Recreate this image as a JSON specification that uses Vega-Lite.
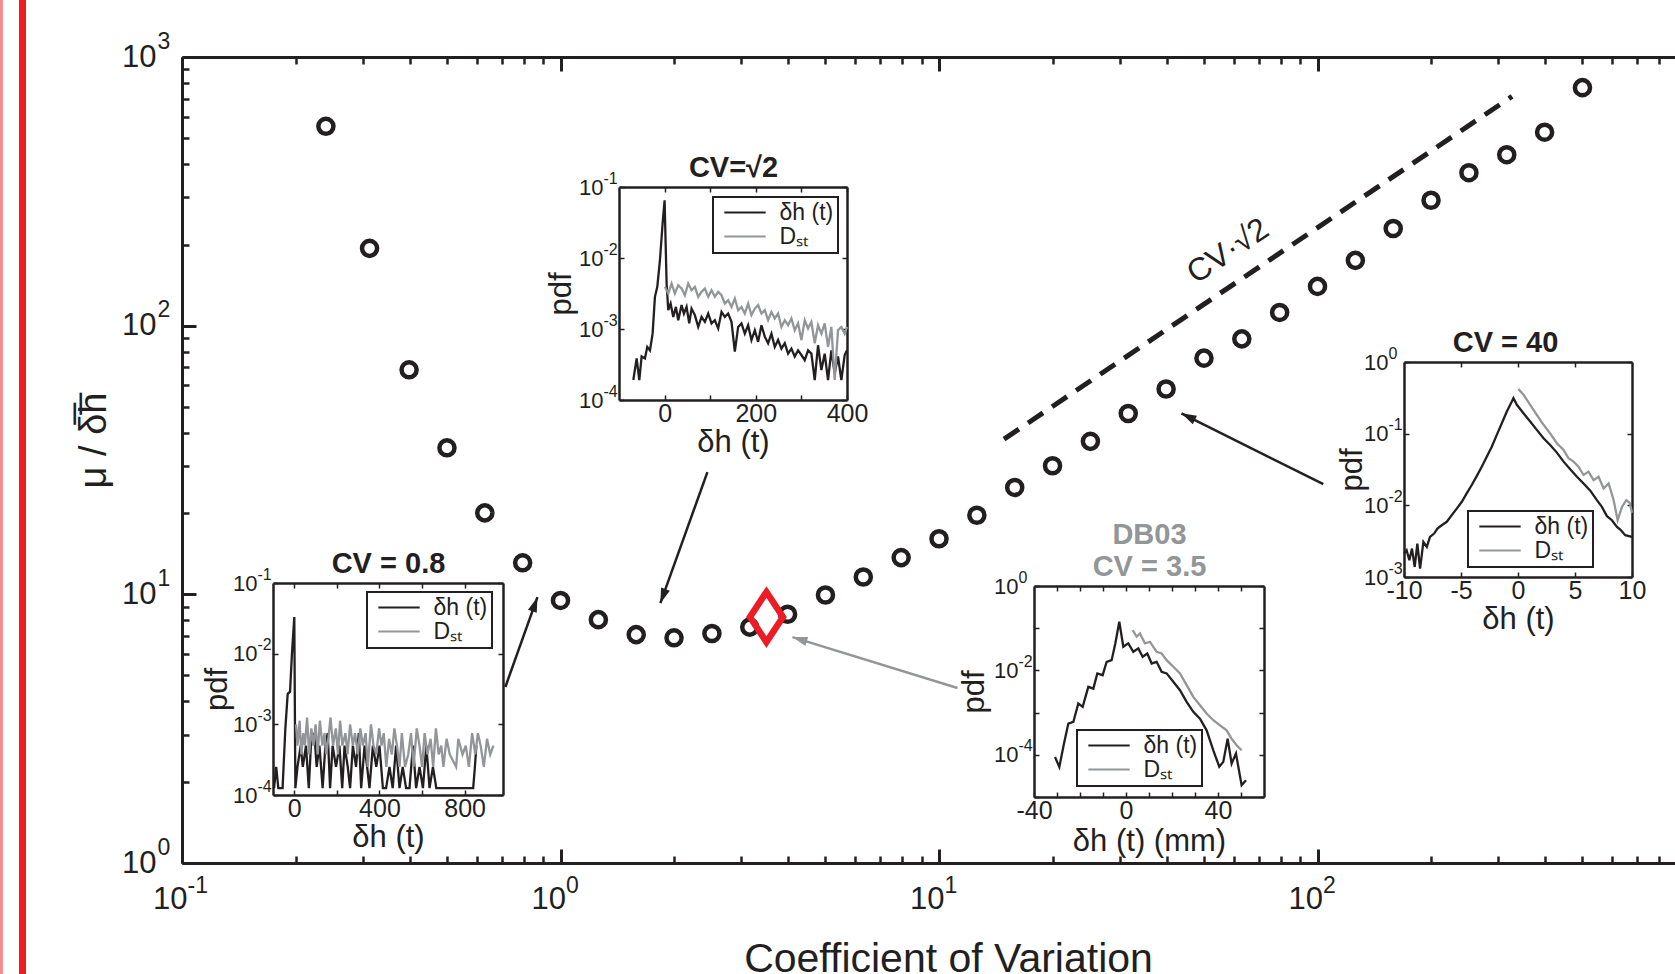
{
"$schema":"https://vega.github.io/schema/vega-lite/v6.json",
"width":1493,"height":806,
"autosize":{"type":"none"},
"padding":{"left":182,"top":57,"right":0,"bottom":111},
"background":"white",
"config":{"view":{"stroke":null},"font":"Liberation Sans","text":{"font":"Liberation Sans"},
"axis":{"grid":false,"domainColor":"#231f20","tickColor":"#231f20","labelColor":"#231f20","titleColor":"#231f20","labelFont":"Liberation Sans","titleFont":"Liberation Sans","titleFontWeight":"normal","labelFlush":false,"labelOverlap":false,"labelBound":false,"tickCap":"butt"}},
"datasets":{
"pts":[{"cv":0.24,"r":552},{"cv":0.313,"r":194},{"cv":0.3981,"r":68.5},{"cv":0.5012,"r":35.1},{"cv":0.631,"r":20.1},{"cv":0.7943,"r":13.1},{"cv":1,"r":9.49},{"cv":1.259,"r":8.05},{"cv":1.585,"r":7.08},{"cv":1.995,"r":6.89},{"cv":2.512,"r":7.15},{"cv":3.162,"r":7.55},{"cv":3.981,"r":8.43},{"cv":5.012,"r":9.94},{"cv":6.31,"r":11.6},{"cv":7.943,"r":13.7},{"cv":10,"r":16.1},{"cv":12.59,"r":19.7},{"cv":15.85,"r":25.0},{"cv":19.95,"r":30.1},{"cv":25.12,"r":37.1},{"cv":31.62,"r":47.1},{"cv":39.81,"r":58.1},{"cv":50.12,"r":75.7},{"cv":63.1,"r":89.3},{"cv":79.43,"r":112},{"cv":100,"r":140},{"cv":125.9,"r":175},{"cv":158.5,"r":230},{"cv":199.5,"r":293},{"cv":251.2,"r":371},{"cv":316.2,"r":433},{"cv":398.1,"r":525},{"cv":501.2,"r":769}],
"dia":[{"cv":3.5,"r":8.23}],
"dash":[{"cv":14.85,"r":37.8},{"cv":326.6,"r":713.6}],
"lbl":[{"cv":58.0,"r":189.6,"t":"CV·√2"}],
"arr":[{"id":1,"src":"m","x":0.715,"y":4.52,"x2":0.869,"y2":9.76},{"id":2,"src":"m","x":2.444,"y":28.5,"x2":1.836,"y2":9.27},{"id":3,"src":"d","x":11.19,"y":4.48,"x2":4.10,"y2":6.93},{"id":4,"src":"m","x":103.6,"y":25.7,"x2":43.7,"y2":47.2}],
"red":[{"k":"a","x":0.03334},{"k":"b","x":0.0379}],
"i1":[
{"s":"a","x":-95,"y":0.000125},{"s":"a","x":-85,"y":0.00025},{"s":"a","x":-75,"y":0.000125},{"s":"a","x":-55,"y":0.000125},{"s":"a","x":-42,"y":0.000875},{"s":"a","x":-31,"y":0.0027},{"s":"a","x":-20,"y":0.0029},{"s":"a","x":-11,"y":0.01},{"s":"a","x":0,"y":0.033},{"s":"a","x":5,"y":0.000125},{"s":"a","x":15,"y":0.00025},{"s":"a","x":30,"y":0.0005},{"s":"a","x":40,"y":0.00025},{"s":"a","x":55,"y":0.0005},{"s":"a","x":68,"y":0.000125},{"s":"a","x":78,"y":0.0005},{"s":"a","x":94,"y":0.00075},{"s":"a","x":105,"y":0.00025},{"s":"a","x":118,"y":0.0005},{"s":"a","x":133,"y":0.000125},{"s":"a","x":146,"y":0.0005},{"s":"a","x":157,"y":0.00075},{"s":"a","x":168,"y":0.000125},{"s":"a","x":180,"y":0.0005},{"s":"a","x":196,"y":0.00025},{"s":"a","x":212,"y":0.0005},{"s":"a","x":225,"y":0.000125},{"s":"a","x":236,"y":0.0005},{"s":"a","x":251,"y":0.00025},{"s":"a","x":262,"y":0.000125},{"s":"a","x":275,"y":0.0005},{"s":"a","x":290,"y":0.00025},{"s":"a","x":303,"y":0.00075},{"s":"a","x":314,"y":0.000125},{"s":"a","x":330,"y":0.0005},{"s":"a","x":342,"y":0.00025},{"s":"a","x":353,"y":0.000125},{"s":"a","x":369,"y":0.0005},{"s":"a","x":385,"y":0.00025},{"s":"a","x":400,"y":0.0005},{"s":"a","x":416,"y":0.000125},{"s":"a","x":431,"y":0.000125},{"s":"a","x":447,"y":0.00025},{"s":"a","x":462,"y":0.000125},{"s":"a","x":478,"y":0.0005},{"s":"a","x":494,"y":0.000125},{"s":"a","x":509,"y":0.00025},{"s":"a","x":525,"y":0.000125},{"s":"a","x":541,"y":0.000125},{"s":"a","x":557,"y":0.0005},{"s":"a","x":572,"y":0.000125},{"s":"a","x":588,"y":0.00025},{"s":"a","x":604,"y":0.000125},{"s":"a","x":620,"y":0.0005},{"s":"a","x":635,"y":0.000125},{"s":"a","x":651,"y":0.00025},{"s":"a","x":667,"y":0.000125},{"s":"a","x":690,"y":0.000125},{"s":"a","x":720,"y":0.000125},{"s":"a","x":760,"y":0.000125},{"s":"a","x":800,"y":0.000125},{"s":"a","x":840,"y":0.000125},{"s":"a","x":848,"y":0.00025},{"s":"a","x":855,"y":0.0005},
{"s":"b","x":8,"y":0.001},{"s":"b","x":15,"y":0.0005},{"s":"b","x":25,"y":0.001125},{"s":"b","x":33,"y":0.000375},{"s":"b","x":42,"y":0.00075},{"s":"b","x":50,"y":0.0005},{"s":"b","x":60,"y":0.00125},{"s":"b","x":70,"y":0.000375},{"s":"b","x":80,"y":0.000875},{"s":"b","x":90,"y":0.0005},{"s":"b","x":100,"y":0.001},{"s":"b","x":110,"y":0.000375},{"s":"b","x":120,"y":0.001125},{"s":"b","x":132,"y":0.0005},{"s":"b","x":142,"y":0.00075},{"s":"b","x":150,"y":0.000375},{"s":"b","x":160,"y":0.000625},{"s":"b","x":170,"y":0.00125},{"s":"b","x":182,"y":0.0005},{"s":"b","x":195,"y":0.000875},{"s":"b","x":205,"y":0.000375},{"s":"b","x":215,"y":0.001125},{"s":"b","x":226,"y":0.0005},{"s":"b","x":240,"y":0.00075},{"s":"b","x":250,"y":0.000375},{"s":"b","x":262,"y":0.001},{"s":"b","x":275,"y":0.0005},{"s":"b","x":285,"y":0.00075},{"s":"b","x":298,"y":0.000375},{"s":"b","x":310,"y":0.000875},{"s":"b","x":322,"y":0.0005},{"s":"b","x":335,"y":0.00075},{"s":"b","x":345,"y":0.00025},{"s":"b","x":360,"y":0.001},{"s":"b","x":372,"y":0.0005},{"s":"b","x":385,"y":0.000375},{"s":"b","x":398,"y":0.000875},{"s":"b","x":410,"y":0.0005},{"s":"b","x":420,"y":0.00075},{"s":"b","x":432,"y":0.00025},{"s":"b","x":445,"y":0.000625},{"s":"b","x":458,"y":0.000375},{"s":"b","x":470,"y":0.000875},{"s":"b","x":482,"y":0.0005},{"s":"b","x":494,"y":0.00025},{"s":"b","x":505,"y":0.00075},{"s":"b","x":520,"y":0.00025},{"s":"b","x":535,"y":0.000375},{"s":"b","x":548,"y":0.00075},{"s":"b","x":560,"y":0.00025},{"s":"b","x":575,"y":0.000875},{"s":"b","x":588,"y":0.0005},{"s":"b","x":600,"y":0.00025},{"s":"b","x":612,"y":0.00075},{"s":"b","x":625,"y":0.000375},{"s":"b","x":640,"y":0.000625},{"s":"b","x":652,"y":0.00025},{"s":"b","x":665,"y":0.000875},{"s":"b","x":678,"y":0.000375},{"s":"b","x":690,"y":0.0005},{"s":"b","x":700,"y":0.00025},{"s":"b","x":715,"y":0.000625},{"s":"b","x":730,"y":0.000375},{"s":"b","x":760,"y":0.00025},{"s":"b","x":770,"y":0.000625},{"s":"b","x":790,"y":0.000375},{"s":"b","x":805,"y":0.0005},{"s":"b","x":820,"y":0.00025},{"s":"b","x":835,"y":0.00075},{"s":"b","x":850,"y":0.000375},{"s":"b","x":862,"y":0.00075},{"s":"b","x":875,"y":0.0005},{"s":"b","x":890,"y":0.00025},{"s":"b","x":905,"y":0.000625},{"s":"b","x":920,"y":0.000375},{"s":"b","x":935,"y":0.0005}],
"i2":[
{"s":"a","x":-68.6,"y":0.000191},{"s":"a","x":-61.3,"y":0.000385},{"s":"a","x":-55.5,"y":0.000191},{"s":"a","x":-50.4,"y":0.00041},{"s":"a","x":-43.1,"y":0.000385},{"s":"a","x":-38,"y":0.00056},{"s":"a","x":-32.1,"y":0.0005},{"s":"a","x":-26.3,"y":0.00086},{"s":"a","x":-21.2,"y":0.00284},{"s":"a","x":-16,"y":0.00393},{"s":"a","x":-10.2,"y":0.0093},{"s":"a","x":-4.4,"y":0.0305},{"s":"a","x":0,"y":0.065},{"s":"a","x":4.4,"y":0.00437},{"s":"a","x":8,"y":0.00184},{"s":"a","x":13.2,"y":0.00228},{"s":"a","x":19,"y":0.00148},{"s":"a","x":24.8,"y":0.00205},{"s":"a","x":29.9,"y":0.00133},{"s":"a","x":37.2,"y":0.00217},{"s":"a","x":42.4,"y":0.00165},{"s":"a","x":48.2,"y":0.00205},{"s":"a","x":54,"y":0.0012},{"s":"a","x":59.1,"y":0.00194},{"s":"a","x":66.4,"y":0.00157},{"s":"a","x":73.7,"y":0.00107},{"s":"a","x":81,"y":0.00148},{"s":"a","x":88.3,"y":0.00126},{"s":"a","x":95.6,"y":0.00165},{"s":"a","x":102.9,"y":0.0012},{"s":"a","x":110.2,"y":0.00133},{"s":"a","x":117.5,"y":0.00102},{"s":"a","x":124.8,"y":0.00174},{"s":"a","x":132.1,"y":0.00148},{"s":"a","x":139.4,"y":0.00165},{"s":"a","x":146.7,"y":0.00126},{"s":"a","x":154,"y":0.00048},{"s":"a","x":161.3,"y":0.00107},{"s":"a","x":168.6,"y":0.0012},{"s":"a","x":175.9,"y":0.00086},{"s":"a","x":183.2,"y":0.00113},{"s":"a","x":190.5,"y":0.0007},{"s":"a","x":197.8,"y":0.00096},{"s":"a","x":205.1,"y":0.00066},{"s":"a","x":212.4,"y":0.00113},{"s":"a","x":219.7,"y":0.00078},{"s":"a","x":227,"y":0.00063},{"s":"a","x":234.3,"y":0.00086},{"s":"a","x":241.6,"y":0.00056},{"s":"a","x":248.9,"y":0.0007},{"s":"a","x":256.2,"y":0.00053},{"s":"a","x":263.5,"y":0.00063},{"s":"a","x":270.8,"y":0.00045},{"s":"a","x":278.1,"y":0.00053},{"s":"a","x":285.4,"y":0.00041},{"s":"a","x":292.7,"y":0.0005},{"s":"a","x":300,"y":0.00043},{"s":"a","x":307.3,"y":0.000365},{"s":"a","x":314.6,"y":0.0005},{"s":"a","x":321.9,"y":0.00045},{"s":"a","x":329.2,"y":0.000191},{"s":"a","x":336.5,"y":0.00059},{"s":"a","x":343.8,"y":0.000264},{"s":"a","x":351.1,"y":0.00045},{"s":"a","x":358.4,"y":0.000191},{"s":"a","x":365.7,"y":0.0005},{"s":"a","x":373,"y":0.000237},{"s":"a","x":380.3,"y":0.00041},{"s":"a","x":387.6,"y":0.000191},{"s":"a","x":394.9,"y":0.00043},{"s":"a","x":400,"y":0.0005},
{"s":"b","x":0.7,"y":0.00393},{"s":"b","x":8,"y":0.00316},{"s":"b","x":15.3,"y":0.00437},{"s":"b","x":22.6,"y":0.00316},{"s":"b","x":29.9,"y":0.00414},{"s":"b","x":37.2,"y":0.00372},{"s":"b","x":44.5,"y":0.00299},{"s":"b","x":51.8,"y":0.00437},{"s":"b","x":59.1,"y":0.00352},{"s":"b","x":66.4,"y":0.00393},{"s":"b","x":73.7,"y":0.00284},{"s":"b","x":81,"y":0.00334},{"s":"b","x":88.3,"y":0.00372},{"s":"b","x":95.6,"y":0.00284},{"s":"b","x":102.9,"y":0.00352},{"s":"b","x":110.2,"y":0.00284},{"s":"b","x":117.5,"y":0.00334},{"s":"b","x":124.8,"y":0.00299},{"s":"b","x":132.1,"y":0.00228},{"s":"b","x":139.4,"y":0.00255},{"s":"b","x":146.7,"y":0.00205},{"s":"b","x":154,"y":0.00269},{"s":"b","x":161.3,"y":0.00184},{"s":"b","x":168.6,"y":0.00205},{"s":"b","x":175.9,"y":0.00165},{"s":"b","x":183.2,"y":0.00228},{"s":"b","x":190.5,"y":0.00157},{"s":"b","x":197.8,"y":0.00194},{"s":"b","x":205.1,"y":0.00217},{"s":"b","x":212.4,"y":0.00165},{"s":"b","x":219.7,"y":0.00184},{"s":"b","x":227,"y":0.00133},{"s":"b","x":234.3,"y":0.00174},{"s":"b","x":241.6,"y":0.00141},{"s":"b","x":248.9,"y":0.00165},{"s":"b","x":256.2,"y":0.00107},{"s":"b","x":263.5,"y":0.00133},{"s":"b","x":270.8,"y":0.00113},{"s":"b","x":278.1,"y":0.00141},{"s":"b","x":285.4,"y":0.00096},{"s":"b","x":292.7,"y":0.0012},{"s":"b","x":300,"y":0.0007},{"s":"b","x":307.3,"y":0.00133},{"s":"b","x":314.6,"y":0.00102},{"s":"b","x":321.9,"y":0.00126},{"s":"b","x":329.2,"y":0.00063},{"s":"b","x":336.5,"y":0.00113},{"s":"b","x":343.8,"y":0.00086},{"s":"b","x":351.1,"y":0.0012},{"s":"b","x":358.4,"y":0.00056},{"s":"b","x":365.7,"y":0.00107},{"s":"b","x":373,"y":0.000191},{"s":"b","x":380.3,"y":0.00096},{"s":"b","x":387.6,"y":0.00107},{"s":"b","x":394.9,"y":0.00086},{"s":"b","x":400,"y":0.00107}],
"i3":[
{"s":"a","x":-30.87,"y":0.000089},{"s":"a","x":-28.99,"y":0.0000515},{"s":"a","x":-26.96,"y":0.000185},{"s":"a","x":-25.07,"y":0.00055},{"s":"a","x":-22.9,"y":0.0006},{"s":"a","x":-20.73,"y":0.00164},{"s":"a","x":-18.84,"y":0.00137},{"s":"a","x":-16.38,"y":0.00408},{"s":"a","x":-14.2,"y":0.0037},{"s":"a","x":-12.47,"y":0.0085},{"s":"a","x":-10.15,"y":0.0077},{"s":"a","x":-8.41,"y":0.016},{"s":"a","x":-6.24,"y":0.0175},{"s":"a","x":-4.65,"y":0.0436},{"s":"a","x":-2.91,"y":0.142},{"s":"a","x":-1.17,"y":0.0363},{"s":"a","x":1.0,"y":0.0436},{"s":"a","x":3.18,"y":0.0276},{"s":"a","x":5.35,"y":0.0332},{"s":"a","x":7.24,"y":0.021},{"s":"a","x":9.27,"y":0.0252},{"s":"a","x":11.15,"y":0.0146},{"s":"a","x":13.32,"y":0.016},{"s":"a","x":15.5,"y":0.0093},{"s":"a","x":17.67,"y":0.0085},{"s":"a","x":20.57,"y":0.0054},{"s":"a","x":23.47,"y":0.0034},{"s":"a","x":26.36,"y":0.0018},{"s":"a","x":29.26,"y":0.00104},{"s":"a","x":32.16,"y":0.00072},{"s":"a","x":35.06,"y":0.00038},{"s":"a","x":37.96,"y":0.000128},{"s":"a","x":40.56,"y":0.000052},{"s":"a","x":42.3,"y":0.000068},{"s":"a","x":44.19,"y":0.00024},{"s":"a","x":45.93,"y":0.000062},{"s":"a","x":47.81,"y":0.000107},{"s":"a","x":50.27,"y":0.000019},{"s":"a","x":52.16,"y":0.000025},
{"s":"b","x":2.89,"y":0.09},{"s":"b","x":4.63,"y":0.0627},{"s":"b","x":6.08,"y":0.0753},{"s":"b","x":8.25,"y":0.0436},{"s":"b","x":10.43,"y":0.0477},{"s":"b","x":13.32,"y":0.0276},{"s":"b","x":15.5,"y":0.0252},{"s":"b","x":17.67,"y":0.0175},{"s":"b","x":20.57,"y":0.0122},{"s":"b","x":23.47,"y":0.0085},{"s":"b","x":26.36,"y":0.00447},{"s":"b","x":29.26,"y":0.00236},{"s":"b","x":32.16,"y":0.0015},{"s":"b","x":35.06,"y":0.00095},{"s":"b","x":37.96,"y":0.00066},{"s":"b","x":40.86,"y":0.0005},{"s":"b","x":43.75,"y":0.00038},{"s":"b","x":45.93,"y":0.00024},{"s":"b","x":48.1,"y":0.000168},{"s":"b","x":50.27,"y":0.000128}],
"i4":[
{"s":"a","x":-10,"y":0.00212},{"s":"a","x":-9.77,"y":0.00236},{"s":"a","x":-9.53,"y":0.00171},{"s":"a","x":-9.3,"y":0.00249},{"s":"a","x":-9.06,"y":0.00138},{"s":"a","x":-8.83,"y":0.00292},{"s":"a","x":-8.59,"y":0.00131},{"s":"a","x":-8.3,"y":0.00309},{"s":"a","x":-8.0,"y":0.00263},{"s":"a","x":-7.72,"y":0.00363},{"s":"a","x":-7.36,"y":0.00404},{"s":"a","x":-7.07,"y":0.00475},{"s":"a","x":-6.69,"y":0.00528},{"s":"a","x":-6.25,"y":0.00589},{"s":"a","x":-5.81,"y":0.0073},{"s":"a","x":-5.37,"y":0.009},{"s":"a","x":-4.93,"y":0.0112},{"s":"a","x":-4.5,"y":0.0147},{"s":"a","x":-4.06,"y":0.0192},{"s":"a","x":-3.62,"y":0.0256},{"s":"a","x":-3.18,"y":0.0346},{"s":"a","x":-2.74,"y":0.0478},{"s":"a","x":-2.3,"y":0.0659},{"s":"a","x":-1.86,"y":0.0961},{"s":"a","x":-1.42,"y":0.14},{"s":"a","x":-0.98,"y":0.204},{"s":"a","x":-0.54,"y":0.281},{"s":"a","x":-0.4,"y":0.313},{"s":"a","x":-0.1,"y":0.253},{"s":"a","x":0.48,"y":0.193},{"s":"a","x":1.07,"y":0.148},{"s":"a","x":1.65,"y":0.113},{"s":"a","x":2.24,"y":0.0863},{"s":"a","x":2.82,"y":0.0696},{"s":"a","x":3.41,"y":0.0544},{"s":"a","x":4.0,"y":0.0407},{"s":"a","x":4.58,"y":0.0318},{"s":"a","x":5.17,"y":0.0251},{"s":"a","x":5.75,"y":0.0202},{"s":"a","x":6.34,"y":0.016},{"s":"a","x":6.92,"y":0.0118},{"s":"a","x":7.36,"y":0.0095},{"s":"a","x":7.8,"y":0.00706},{"s":"a","x":8.24,"y":0.0062},{"s":"a","x":8.68,"y":0.005},{"s":"a","x":8.97,"y":0.00459},{"s":"a","x":9.41,"y":0.00383},{"s":"a","x":10,"y":0.00363},
{"s":"b","x":0.04,"y":0.419},{"s":"b","x":0.48,"y":0.349},{"s":"b","x":1.07,"y":0.253},{"s":"b","x":1.65,"y":0.183},{"s":"b","x":2.24,"y":0.133},{"s":"b","x":2.82,"y":0.101},{"s":"b","x":3.41,"y":0.0735},{"s":"b","x":4.0,"y":0.0593},{"s":"b","x":4.43,"y":0.0453},{"s":"b","x":4.87,"y":0.0407},{"s":"b","x":5.31,"y":0.0346},{"s":"b","x":5.75,"y":0.0265},{"s":"b","x":6.19,"y":0.0295},{"s":"b","x":6.63,"y":0.0225},{"s":"b","x":7.07,"y":0.0251},{"s":"b","x":7.51,"y":0.0172},{"s":"b","x":7.95,"y":0.0202},{"s":"b","x":8.39,"y":0.0118},{"s":"b","x":8.74,"y":0.0062},{"s":"b","x":9.12,"y":0.0095},{"s":"b","x":9.5,"y":0.0118},{"s":"b","x":9.8,"y":0.0108},{"s":"b","x":10,"y":0.0079}]
},
"layer":[
{"data":{"name":"pts"},"mark":{"type":"point","shape":"circle","size":227,"filled":false,"strokeWidth":4.5,"stroke":"#231f20","opacity":1},
"encoding":{
"x":{"field":"cv","type":"quantitative","scale":{"type":"log","domain":[0.1,880],"nice":false},"axis":{"orient":"bottom","values":[0.1,1,10,100],"labels":false,"tickSize":-14,"tickWidth":3,"domainWidth":3,"title":"Coefficient of Variation","titleFontSize":41,"titleX":766,"titleY":108,"titleBaseline":"alphabetic"}},
"y":{"field":"r","type":"quantitative","scale":{"type":"log","domain":[1,1000],"nice":false},"axis":{"orient":"left","values":[1,10,100,1000],"labels":false,"tickSize":-14,"tickWidth":3,"domainWidth":3,"title":"μ / δ\u0305h\u0305","titleFontSize":38,"titleX":-88,"titleY":383,"titleBaseline":"middle","titleAngle":-90}}}},
{"data":{"name":"dia"},"mark":{"type":"point","shape":"M0,-1L0.66,0L0,1L-0.66,0Z","size":2500,"filled":false,"stroke":"#ed1c24","strokeWidth":6.5,"strokeJoin":"miter","opacity":1},
"encoding":{
"x":{"field":"cv","type":"quantitative","scale":{"type":"log","domain":[0.1,880],"nice":false},"axis":{"orient":"bottom","values":[0.2,0.3,0.4,0.5,0.6,0.7,0.8,0.9,2,3,4,5,6,7,8,9,20,30,40,50,60,70,80,90,200,300,400,500,600,700,800],"labels":false,"domain":false,"tickSize":-7,"tickWidth":2.5,"title":null}},
"y":{"field":"r","type":"quantitative","scale":{"type":"log","domain":[1,1000],"nice":false},"axis":{"orient":"left","values":[2,3,4,5,6,7,8,9,20,30,40,50,60,70,80,90,200,300,400,500,600,700,800,900],"labels":false,"domain":false,"tickSize":-7,"tickWidth":2.5,"title":null}}}},
{"data":{"name":"dash"},"mark":{"type":"line","strokeDash":[18,11],"strokeWidth":5,"color":"#231f20"},
"encoding":{
"x":{"field":"cv","type":"quantitative","scale":{"type":"log","domain":[0.1,880],"nice":false},"axis":{"orient":"bottom","values":[0.1,1,10,100],"ticks":false,"domain":false,"labelExpr":"'10'","labelAlign":"right","labelOffset":5,"labelPadding":21,"labelFontSize":31,"labelBaseline":"top","title":null}},
"y":{"field":"r","type":"quantitative","scale":{"type":"log","domain":[1,1000],"nice":false},"axis":{"orient":"left","values":[1,10,100,1000],"ticks":false,"domain":false,"labelExpr":"'10'","labelAlign":"right","labelPadding":26,"labelFontSize":31,"labelBaseline":"middle","title":null}}}},
{"data":{"name":"lbl"},"mark":{"type":"text","angle":-34,"fontSize":32,"color":"#231f20","align":"center","baseline":"middle"},
"encoding":{
"x":{"field":"cv","type":"quantitative","scale":{"type":"log","domain":[0.1,880],"nice":false},"axis":{"orient":"bottom","values":[0.1,1,10,100],"ticks":false,"domain":false,"labelExpr":"datum.value==0.1?'-1':datum.value==1?'0':datum.value==10?'1':'2'","labelAlign":"left","labelOffset":5,"labelPadding":11,"labelFontSize":23,"labelBaseline":"top","title":null}},
"y":{"field":"r","type":"quantitative","scale":{"type":"log","domain":[1,1000],"nice":false},"axis":{"orient":"left","values":[1,10,100,1000],"ticks":false,"domain":false,"labelExpr":"datum.value==1?'0':datum.value==10?'1':datum.value==100?'2':'3'","labelAlign":"left","labelPadding":25,"labelOffset":-16,"labelFontSize":23,"labelBaseline":"middle","title":null}},
"text":{"field":"t","type":"nominal"}}},
{"data":{"name":"arr"},"mark":{"type":"rule","strokeWidth":2.5},
"encoding":{
"x":{"field":"x","type":"quantitative","scale":{"type":"log","domain":[0.1,880],"nice":false},"axis":{"orient":"top","values":[0.1,1,10,100],"labels":false,"tickSize":-14,"tickWidth":3,"domainWidth":3,"title":null}},
"y":{"field":"y","type":"quantitative","scale":{"type":"log","domain":[1,1000],"nice":false},"axis":null},
"x2":{"field":"x2"},"y2":{"field":"y2"},
"color":{"field":"src","type":"nominal","scale":{"domain":["m","d"],"range":["#231f20","#939598"]},"legend":null}}},
{"data":{"name":"red"},"mark":{"type":"rule"},
"encoding":{
"x":{"field":"x","type":"quantitative","scale":{"type":"log","domain":[0.1,880],"nice":false},"axis":{"orient":"top","values":[0.2,0.3,0.4,0.5,0.6,0.7,0.8,0.9,2,3,4,5,6,7,8,9,20,30,40,50,60,70,80,90,200,300,400,500,600,700,800],"labels":false,"domain":false,"tickSize":-7,"tickWidth":2.5,"title":null}},
"y":{"datum":0.3,"type":"quantitative","scale":{"type":"log","domain":[1,1000],"nice":false},"axis":null},
"y2":{"datum":3000},
"color":{"field":"k","type":"nominal","scale":{"domain":["a","b"],"range":["#f58a8e","#ed1c24"]},"legend":null},
"strokeWidth":{"field":"k","type":"ordinal","scale":{"domain":["a","b"],"range":[3,7]},"legend":null}}},
{"data":{"name":"arr"},"transform":[{"filter":"datum.id==1"}],"mark":{"type":"point","shape":"M0,0L-0.62,2L0.62,2Z","size":225,"filled":true,"opacity":1,"angle":19.6},
"encoding":{"x":{"field":"x2","type":"quantitative","scale":{"type":"log","domain":[0.1,880],"nice":false},"axis":null},"y":{"field":"y2","type":"quantitative","scale":{"type":"log","domain":[1,1000],"nice":false},"axis":null},"color":{"field":"src","type":"nominal","scale":{"domain":["m","d"],"range":["#231f20","#939598"]},"legend":null}}},
{"data":{"name":"arr"},"transform":[{"filter":"datum.id==2"}],"mark":{"type":"point","shape":"M0,0L-0.62,2L0.62,2Z","size":225,"filled":true,"opacity":1,"angle":-160.2},
"encoding":{"x":{"field":"x2","type":"quantitative","scale":{"type":"log","domain":[0.1,880],"nice":false},"axis":null},"y":{"field":"y2","type":"quantitative","scale":{"type":"log","domain":[1,1000],"nice":false},"axis":null},"color":{"field":"src","type":"nominal","scale":{"domain":["m","d"],"range":["#231f20","#939598"]},"legend":null}}},
{"data":{"name":"arr"},"transform":[{"filter":"datum.id==3"}],"mark":{"type":"point","shape":"M0,0L-0.62,2L0.62,2Z","size":225,"filled":true,"opacity":1,"angle":-72.8},
"encoding":{"x":{"field":"x2","type":"quantitative","scale":{"type":"log","domain":[0.1,880],"nice":false},"axis":null},"y":{"field":"y2","type":"quantitative","scale":{"type":"log","domain":[1,1000],"nice":false},"axis":null},"color":{"field":"src","type":"nominal","scale":{"domain":["m","d"],"range":["#231f20","#939598"]},"legend":null}}},
{"data":{"name":"arr"},"transform":[{"filter":"datum.id==4"}],"mark":{"type":"point","shape":"M0,0L-0.62,2L0.62,2Z","size":225,"filled":true,"opacity":1,"angle":-63.4},
"encoding":{"x":{"field":"x2","type":"quantitative","scale":{"type":"log","domain":[0.1,880],"nice":false},"axis":null},"y":{"field":"y2","type":"quantitative","scale":{"type":"log","domain":[1,1000],"nice":false},"axis":null},"color":{"field":"src","type":"nominal","scale":{"domain":["m","d"],"range":["#231f20","#939598"]},"legend":null}}},

{"data":{"name":"i1"},"mark":{"type":"line","strokeWidth":2.3},
"encoding":{
"x":{"field":"x","type":"quantitative","scale":{"domain":[-100,980],"range":[91,321],"nice":false,"zero":false},"axis":{"orient":"bottom","offset":-68,"values":[0,200,400,600,800],"tickSize":-5,"tickWidth":1.5,"domainWidth":2.5,"labelExpr":"datum.value % 400 == 0 ? ''+datum.value : ''","labelFontSize":25,"labelPadding":6,"title":"δh (t)","titleFontSize":31,"titleY":42,"titleBaseline":"middle"}},
"y":{"field":"y","type":"quantitative","scale":{"type":"log","domain":[0.0001,0.1],"range":[738,526],"nice":false},"axis":{"orient":"left","offset":-91,"values":[0.0001,0.001,0.01,0.1],"tickSize":-5,"tickWidth":1.5,"domainWidth":2.5,"labels":false,"title":"pdf","titleFontSize":31,"titleX":-56,"titleY":632,"titleBaseline":"middle","titleAngle":-90}},
"color":{"field":"s","type":"nominal","scale":{"domain":["a","b"],"range":["#231f20","#939598"]},"legend":{"orient":"none","legendX":185,"legendY":535,"title":null,"symbolType":"M-3,0H3","symbolSize":190,"symbolStrokeWidth":2,"symbolOffset":16.5,"labelOffset":23,"labelFontSize":23,"labelFont":"Liberation Sans","labelColor":"#231f20","padding":4,"rowPadding":0,"strokeColor":"#231f20","fillColor":"white","labelExpr":"datum.label=='a'?'δh (t)':'Dₛₜ'","encode":{"legend":{"update":{"strokeWidth":{"value":2}}}}}}}},
{"data":{"name":"i1"},"mark":{"type":"point","opacity":0},
"encoding":{
"x":{"field":"x","type":"quantitative","scale":{"domain":[-100,980],"range":[91,321],"nice":false,"zero":false},"axis":{"orient":"top","offset":-526,"values":[0,200,400,600,800],"tickSize":-5,"tickWidth":1.5,"domainWidth":2.5,"labels":false,"title":"CV = 0.8","titleFontSize":29,"titleFontWeight":"bold","titleY":-5,"titleBaseline":"bottom"}},
"y":{"field":"y","type":"quantitative","scale":{"type":"log","domain":[0.0001,0.1],"range":[738,526],"nice":false},"axis":{"orient":"right","offset":-1172,"values":[0.0001,0.001,0.01,0.1],"tickSize":-5,"tickWidth":1.5,"domainWidth":2.5,"labels":false,"title":null}}}},
{"data":{"name":"i1"},"mark":{"type":"point","opacity":0},
"encoding":{
"x":{"field":"x","type":"quantitative","scale":{"domain":[-100,980],"range":[91,321],"nice":false,"zero":false},"axis":null},
"y":{"field":"y","type":"quantitative","scale":{"type":"log","domain":[0.0001,0.1],"range":[738,526],"nice":false},"axis":{"orient":"left","offset":-91,"values":[0.0001,0.001,0.01,0.1],"ticks":false,"domain":false,"labelExpr":"'10'","labelAlign":"right","labelPadding":16,"labelFontSize":22,"labelBaseline":"middle","title":null}}}},
{"data":{"name":"i1"},"mark":{"type":"point","opacity":0},
"encoding":{
"x":{"field":"x","type":"quantitative","scale":{"domain":[-100,980],"range":[91,321],"nice":false,"zero":false},"axis":null},
"y":{"field":"y","type":"quantitative","scale":{"type":"log","domain":[0.0001,0.1],"range":[738,526],"nice":false},"axis":{"orient":"left","offset":-91,"values":[0.0001,0.001,0.01,0.1],"ticks":false,"domain":false,"labelExpr":"datum.value==0.1?'-1':datum.value==0.01?'-2':datum.value==0.001?'-3':'-4'","labelAlign":"left","labelPadding":16,"labelOffset":-9,"labelFontSize":16,"labelBaseline":"middle","title":null}}}},

{"data":{"name":"i2"},"mark":{"type":"line","strokeWidth":2.3},
"encoding":{
"x":{"field":"x","type":"quantitative","scale":{"domain":[-100,400],"range":[437,665],"nice":false,"zero":false},"axis":{"orient":"bottom","offset":-463,"values":[0,100,200,300,400],"tickSize":-5,"tickWidth":1.5,"domainWidth":2.5,"labelExpr":"datum.value % 200 == 0 ? ''+datum.value : ''","labelFontSize":25,"labelPadding":6,"title":"δh (t)","titleFontSize":31,"titleY":42,"titleBaseline":"middle"}},
"y":{"field":"y","type":"quantitative","scale":{"type":"log","domain":[0.0001,0.1],"range":[343,130],"nice":false},"axis":{"orient":"left","offset":-437,"values":[0.0001,0.001,0.01,0.1],"tickSize":-5,"tickWidth":1.5,"domainWidth":2.5,"labels":false,"title":"pdf","titleFontSize":31,"titleX":-58,"titleY":236.5,"titleBaseline":"middle","titleAngle":-90}},
"color":{"field":"s","type":"nominal","scale":{"domain":["a","b"],"range":["#231f20","#939598"]},"legend":{"orient":"none","legendX":531,"legendY":140,"title":null,"symbolType":"M-3,0H3","symbolSize":190,"symbolStrokeWidth":2,"symbolOffset":16.5,"labelOffset":23,"labelFontSize":23,"labelFont":"Liberation Sans","labelColor":"#231f20","padding":4,"rowPadding":0,"strokeColor":"#231f20","fillColor":"white","labelExpr":"datum.label=='a'?'δh (t)':'Dₛₜ'","encode":{"legend":{"update":{"strokeWidth":{"value":2}}}}}}}},
{"data":{"name":"i2"},"mark":{"type":"point","opacity":0},
"encoding":{
"x":{"field":"x","type":"quantitative","scale":{"domain":[-100,400],"range":[437,665],"nice":false,"zero":false},"axis":{"orient":"top","offset":-130,"values":[0,100,200,300,400],"tickSize":-5,"tickWidth":1.5,"domainWidth":2.5,"labels":false,"title":"CV=√2","titleFontSize":29,"titleFontWeight":"bold","titleY":-5,"titleBaseline":"bottom"}},
"y":{"field":"y","type":"quantitative","scale":{"type":"log","domain":[0.0001,0.1],"range":[343,130],"nice":false},"axis":{"orient":"right","offset":-828,"values":[0.0001,0.001,0.01,0.1],"tickSize":-5,"tickWidth":1.5,"domainWidth":2.5,"labels":false,"title":null}}}},
{"data":{"name":"i2"},"mark":{"type":"point","opacity":0},
"encoding":{
"x":{"field":"x","type":"quantitative","scale":{"domain":[-100,400],"range":[437,665],"nice":false,"zero":false},"axis":null},
"y":{"field":"y","type":"quantitative","scale":{"type":"log","domain":[0.0001,0.1],"range":[343,130],"nice":false},"axis":{"orient":"left","offset":-437,"values":[0.0001,0.001,0.01,0.1],"ticks":false,"domain":false,"labelExpr":"'10'","labelAlign":"right","labelPadding":16,"labelFontSize":22,"labelBaseline":"middle","title":null}}}},
{"data":{"name":"i2"},"mark":{"type":"point","opacity":0},
"encoding":{
"x":{"field":"x","type":"quantitative","scale":{"domain":[-100,400],"range":[437,665],"nice":false,"zero":false},"axis":null},
"y":{"field":"y","type":"quantitative","scale":{"type":"log","domain":[0.0001,0.1],"range":[343,130],"nice":false},"axis":{"orient":"left","offset":-437,"values":[0.0001,0.001,0.01,0.1],"ticks":false,"domain":false,"labelExpr":"datum.value==0.1?'-1':datum.value==0.01?'-2':datum.value==0.001?'-3':'-4'","labelAlign":"left","labelPadding":16,"labelOffset":-9,"labelFontSize":16,"labelBaseline":"middle","title":null}}}},

{"data":{"name":"i3"},"mark":{"type":"line","strokeWidth":2.3},
"encoding":{
"x":{"field":"x","type":"quantitative","scale":{"domain":[-40,60],"range":[852,1082],"nice":false,"zero":false},"axis":{"orient":"bottom","offset":-66,"values":[-40,-30,-20,-10,0,10,20,30,40,50],"tickSize":-5,"tickWidth":1.5,"domainWidth":2.5,"labelExpr":"datum.value % 40 == 0 ? ''+datum.value : ''","labelFontSize":25,"labelPadding":6,"title":"δh (t) (mm)","titleFontSize":31,"titleY":44,"titleBaseline":"middle"}},
"y":{"field":"y","type":"quantitative","scale":{"type":"log","domain":[0.00001,1],"range":[740,529],"nice":false},"axis":{"orient":"left","offset":-852,"values":[0.00001,0.0001,0.001,0.01,0.1,1],"tickSize":-5,"tickWidth":1.5,"domainWidth":2.5,"labels":false,"title":"pdf","titleFontSize":31,"titleX":-60,"titleY":634.5,"titleBaseline":"middle","titleAngle":-90}},
"color":{"field":"s","type":"nominal","scale":{"domain":["a","b"],"range":["#231f20","#939598"]},"legend":{"orient":"none","legendX":895,"legendY":673,"title":null,"symbolType":"M-3,0H3","symbolSize":190,"symbolStrokeWidth":2,"symbolOffset":16.5,"labelOffset":23,"labelFontSize":23,"labelFont":"Liberation Sans","labelColor":"#231f20","padding":4,"rowPadding":0,"strokeColor":"#231f20","fillColor":"white","labelExpr":"datum.label=='a'?'δh (t)':'Dₛₜ'","encode":{"legend":{"update":{"strokeWidth":{"value":2}}}}}}}},
{"data":{"name":"i3"},"mark":{"type":"point","opacity":0},
"encoding":{
"x":{"field":"x","type":"quantitative","scale":{"domain":[-40,60],"range":[852,1082],"nice":false,"zero":false},"axis":{"orient":"top","offset":-529,"values":[-30,-20,-10,0,10,20,30,40,50],"tickSize":-5,"tickWidth":1.5,"domainWidth":2.5,"labels":false,"title":["DB03","CV = 3.5"],"titleFontSize":29,"titleFontWeight":"bold","titleColor":"#939598","titleLineHeight":32,"titleY":-37,"titleBaseline":"bottom"}},
"y":{"field":"y","type":"quantitative","scale":{"type":"log","domain":[0.00001,1],"range":[740,529],"nice":false},"axis":{"orient":"right","offset":-411,"values":[0.00001,0.0001,0.001,0.01,0.1,1],"tickSize":-5,"tickWidth":1.5,"domainWidth":2.5,"labels":false,"title":null}}}},
{"data":{"name":"i3"},"mark":{"type":"point","opacity":0},
"encoding":{
"x":{"field":"x","type":"quantitative","scale":{"domain":[-40,60],"range":[852,1082],"nice":false,"zero":false},"axis":null},
"y":{"field":"y","type":"quantitative","scale":{"type":"log","domain":[0.00001,1],"range":[740,529],"nice":false},"axis":{"orient":"left","offset":-852,"values":[0.0001,0.01,1],"ticks":false,"domain":false,"labelExpr":"'10'","labelAlign":"right","labelPadding":16,"labelFontSize":22,"labelBaseline":"middle","title":null,"encode":{"labels":{"update":{"dx":{"signal":"datum.value==1 ? 5 : 0"}}}}}}}},
{"data":{"name":"i3"},"mark":{"type":"point","opacity":0},
"encoding":{
"x":{"field":"x","type":"quantitative","scale":{"domain":[-40,60],"range":[852,1082],"nice":false,"zero":false},"axis":null},
"y":{"field":"y","type":"quantitative","scale":{"type":"log","domain":[0.00001,1],"range":[740,529],"nice":false},"axis":{"orient":"left","offset":-852,"values":[0.0001,0.01,1],"ticks":false,"domain":false,"labelExpr":"datum.value==1?'0':datum.value==0.01?'-2':'-4'","labelAlign":"left","labelPadding":16,"labelOffset":-9,"labelFontSize":16,"labelBaseline":"middle","title":null,"encode":{"labels":{"update":{"dx":{"signal":"datum.value==1 ? 5 : 0"}}}}}}}},

{"data":{"name":"i4"},"mark":{"type":"line","strokeWidth":2.3},
"encoding":{
"x":{"field":"x","type":"quantitative","scale":{"domain":[-10,10],"range":[1222,1450],"nice":false,"zero":false},"axis":{"orient":"bottom","offset":-286,"values":[-10,-5,0,5,10],"tickSize":-5,"tickWidth":1.5,"domainWidth":2.5,"labelExpr":"''+datum.value","labelFontSize":25,"labelPadding":6,"title":"δh (t)","titleFontSize":31,"titleY":42,"titleBaseline":"middle"}},
"y":{"field":"y","type":"quantitative","scale":{"type":"log","domain":[0.001,1],"range":[520,305],"nice":false},"axis":{"orient":"left","offset":-1222,"values":[0.001,0.01,0.1,1],"tickSize":-5,"tickWidth":1.5,"domainWidth":2.5,"labels":false,"title":"pdf","titleFontSize":31,"titleX":-52,"titleY":412.5,"titleBaseline":"middle","titleAngle":-90}},
"color":{"field":"s","type":"nominal","scale":{"domain":["a","b"],"range":["#231f20","#939598"]},"legend":{"orient":"none","legendX":1286,"legendY":454,"title":null,"symbolType":"M-3,0H3","symbolSize":190,"symbolStrokeWidth":2,"symbolOffset":16.5,"labelOffset":23,"labelFontSize":23,"labelFont":"Liberation Sans","labelColor":"#231f20","padding":4,"rowPadding":0,"strokeColor":"#231f20","fillColor":"white","labelExpr":"datum.label=='a'?'δh (t)':'Dₛₜ'","encode":{"legend":{"update":{"strokeWidth":{"value":2}}}}}}}},
{"data":{"name":"i4"},"mark":{"type":"point","opacity":0},
"encoding":{
"x":{"field":"x","type":"quantitative","scale":{"domain":[-10,10],"range":[1222,1450],"nice":false,"zero":false},"axis":{"orient":"top","offset":-305,"values":[-5,0,5],"tickSize":-5,"tickWidth":1.5,"domainWidth":2.5,"labels":false,"title":"CV = 40","titleFontSize":29,"titleFontWeight":"bold","titleX":1323,"titleY":-5,"titleBaseline":"bottom"}},
"y":{"field":"y","type":"quantitative","scale":{"type":"log","domain":[0.001,1],"range":[520,305],"nice":false},"axis":{"orient":"right","offset":-43,"values":[0.001,0.01,0.1,1],"tickSize":-5,"tickWidth":1.5,"domainWidth":2.5,"labels":false,"title":null}}}},
{"data":{"name":"i4"},"mark":{"type":"point","opacity":0},
"encoding":{
"x":{"field":"x","type":"quantitative","scale":{"domain":[-10,10],"range":[1222,1450],"nice":false,"zero":false},"axis":null},
"y":{"field":"y","type":"quantitative","scale":{"type":"log","domain":[0.001,1],"range":[520,305],"nice":false},"axis":{"orient":"left","offset":-1222,"values":[0.001,0.01,0.1,1],"ticks":false,"domain":false,"labelExpr":"'10'","labelAlign":"right","labelPadding":16,"labelFontSize":22,"labelBaseline":"middle","title":null,"encode":{"labels":{"update":{"dx":{"signal":"datum.value==1 ? 5 : 0"}}}}}}}},
{"data":{"name":"i4"},"mark":{"type":"point","opacity":0},
"encoding":{
"x":{"field":"x","type":"quantitative","scale":{"domain":[-10,10],"range":[1222,1450],"nice":false,"zero":false},"axis":null},
"y":{"field":"y","type":"quantitative","scale":{"type":"log","domain":[0.001,1],"range":[520,305],"nice":false},"axis":{"orient":"left","offset":-1222,"values":[0.001,0.01,0.1,1],"ticks":false,"domain":false,"labelExpr":"datum.value==1?'0':datum.value==0.1?'-1':datum.value==0.01?'-2':'-3'","labelAlign":"left","labelPadding":16,"labelOffset":-9,"labelFontSize":16,"labelBaseline":"middle","title":null,"encode":{"labels":{"update":{"dx":{"signal":"datum.value==1 ? 5 : 0"}}}}}}}}
],
"resolve":{"scale":{"x":"independent","y":"independent","color":"independent","strokeWidth":"independent"}}
}
